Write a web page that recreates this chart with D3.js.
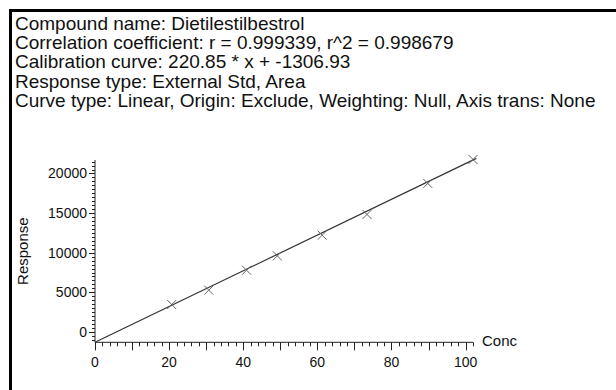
<!DOCTYPE html>
<html><head><meta charset="utf-8">
<script src="https://cdn.jsdelivr.net/npm/d3@7"></script>
<style>
html,body{margin:0;padding:0;background:#fff;}
svg{display:block;font-family:"Liberation Sans",Arial,sans-serif;}
</style></head>
<body>
<svg id="chart" width="616" height="390"></svg>
<script>
// ---- data ----
const headerLines = [
  "Compound name: Dietilestilbestrol",
  "Correlation coefficient: r = 0.999339, r^2 = 0.998679",
  "Calibration curve: 220.85 * x + -1306.93",
  "Response type: External Std, Area",
  "Curve type: Linear, Origin: Exclude, Weighting: Null, Axis trans: None"
];
const conc = [20.7, 30.7, 40.9, 49.2, 61.3, 73.4, 89.8, 102.0];
const response = [3460, 5270, 7790, 9600, 12210, 14830, 18740, 21770];
const fitConc = [0, 102.9];
const fitResponse = [-1307, 21900];
const xTicks = [0, 20, 40, 60, 80, 100];
const yTicks = [0, 5000, 10000, 15000, 20000];
const xDomain = [0, 102];
const yDomain = [-1307, 21700];
const xLabel = "Conc";
const yLabel = "Response";

// ---- drawing ----
const svg = d3.select("#chart");
svg.append("rect").attr("x", 10.5).attr("y", 10.5).attr("width", 700).attr("height", 500)
  .attr("fill", "none").attr("stroke", "#000").attr("stroke-width", 3);

svg.append("g").selectAll("text").data(headerLines).join("text")
  .attr("x", 15).attr("y", (d, i) => 30 + i * 19.2)
  .attr("font-size", 19).attr("fill", "#111").text(d => d);

const x = d3.scaleLinear().domain(xDomain).range([95, 473]);
const y = d3.scaleLinear().domain(yDomain).range([342.3, 160]);

const ink = "#222";
// x axis
const xg = svg.append("g").attr("transform", `translate(0,${y.range()[0]})`);
xg.append("line").attr("x1", x(xDomain[0])).attr("x2", x(xDomain[1])).attr("stroke", ink);
const xMinor = d3.range(0, xDomain[1] + 0.001, 2);
xg.selectAll("line.t").data(xMinor).join("line").attr("class", "t")
  .attr("x1", d => Math.round(x(d)) + 0.5).attr("x2", d => Math.round(x(d)) + 0.5)
  .attr("y1", 0).attr("y2", d => (d % 10 === 0) ? 8 : 4).attr("stroke", ink);
xg.selectAll("text").data(xTicks).join("text")
  .attr("x", d => x(d)).attr("y", 25).attr("text-anchor", "middle")
  .attr("font-size", 14).attr("fill", "#111").text(d => d);
xg.append("text").attr("x", x(xDomain[1]) + 9).attr("y", 4).attr("font-size", 15)
  .attr("fill", "#111").text(xLabel);

// y axis
const yg = svg.append("g").attr("transform", `translate(${x.range()[0]},0)`);
yg.append("line").attr("y1", y(yDomain[0])).attr("y2", y(yDomain[1])).attr("stroke", ink);
const yMinor = d3.range(-1000, yDomain[1] + 1, 500);
yg.selectAll("line.t").data(yMinor).join("line").attr("class", "t")
  .attr("y1", d => Math.round(y(d)) + 0.5).attr("y2", d => Math.round(y(d)) + 0.5)
  .attr("x1", 0).attr("x2", d => (d % 5000 === 0) ? -6 : -3).attr("stroke", ink);
yg.selectAll("text").data(yTicks).join("text")
  .attr("x", -8).attr("y", d => y(d)).attr("dy", "0.35em").attr("text-anchor", "end")
  .attr("font-size", 14).attr("fill", "#111").text(d => d);
svg.append("text").attr("transform", `translate(28,${(y(yDomain[0]) + y(yDomain[1])) / 2}) rotate(-90)`)
  .attr("text-anchor", "middle").attr("font-size", 15).attr("fill", "#111").text(yLabel);

// fit line
const fit = fitConc.map((c, i) => [c, fitResponse[i]]);
svg.append("path").datum(fit)
  .attr("d", d3.line().x(d => x(d[0])).y(d => y(d[1])))
  .attr("fill", "none").attr("stroke", "#333").attr("stroke-width", 1.2);

// markers
const pts = conc.map((c, i) => [c, response[i]]);
const s = 4.5;
svg.append("g").selectAll("path").data(pts).join("path")
  .attr("d", d => {
    const cx = x(d[0]), cy = y(d[1]);
    return `M${cx - s},${cy - s}L${cx + s},${cy + s}M${cx - s},${cy + s}L${cx + s},${cy - s}`;
  })
  .attr("stroke", "#666").attr("stroke-width", 1).attr("fill", "none");
</script>
</body></html>
